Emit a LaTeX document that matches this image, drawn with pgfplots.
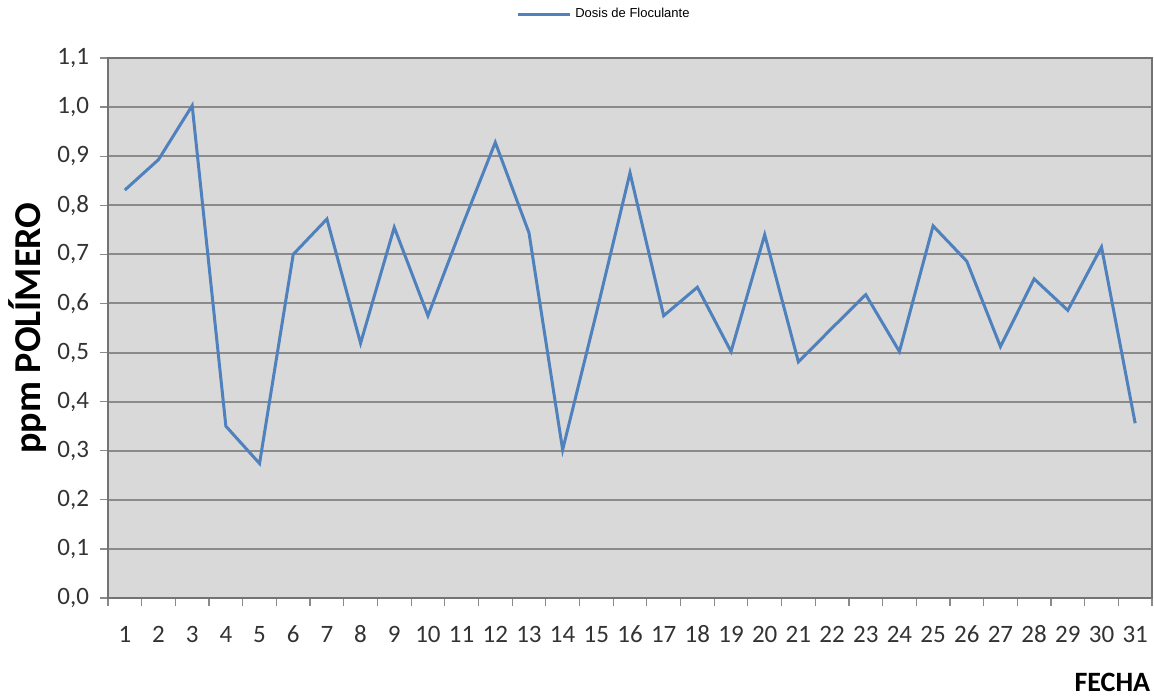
\documentclass[border=0pt]{standalone}
\usepackage{fontspec}
\setmainfont{Carlito}
\newfontfamily\legfont{Liberation Sans}
\usepackage{pgfplots}
\pgfplotsset{compat=1.18}

\definecolor{serie}{HTML}{4F81BD}
\definecolor{fondo}{HTML}{D9D9D9}
\definecolor{rejilla}{HTML}{8A8A8A}

\begin{document}
\begin{tikzpicture}
\begin{axis}[
  scale only axis,
  width=522pt, height=270pt,
  xmin=0.5, xmax=31.5,
  ymin=0, ymax=1.1,
  axis background/.style={fill=fondo},
  xtick={1,...,31},
  major x tick style={draw=none},
  minor xtick={0.5,1.5,...,31.5},
  minor tick length=4pt,
  ytick={0,0.1,0.2,0.3,0.4,0.5,0.6,0.7,0.8,0.9,1.0,1.1},
  major tick length=4pt,
  tick align=outside,
  xtick pos=bottom, ytick pos=left,
  tick style={rejilla, line width=0.6pt},
  ymajorgrids=true,
  grid style={rejilla, line width=1pt},
  axis line style={black!55, line width=0.6pt},
  ticklabel style={font=\fontsize{12.5}{14}\selectfont, text=black!80},
  xticklabel style={yshift=-6pt, text height=8.5pt, text depth=0pt},
  yticklabel style={xshift=-2pt},
  yticklabel={\pgfmathprintnumber[use comma, fixed, fixed zerofill, precision=1, assume math mode=true]{\tick}},
  xticklabel={\pgfmathprintnumber[assume math mode=true]{\tick}},
  ylabel={ppm POLÍMERO},
  ylabel style={at={(axis description cs:-0.077,0.5)}, anchor=center,
                font=\fontsize{19}{22}\selectfont\bfseries},
  xlabel={FECHA},
  xlabel style={at={(axis description cs:0.962,-0.157)}, anchor=center,
                font=\fontsize{14}{16}\selectfont\bfseries},
  legend style={draw=none, fill=none, at={(axis description cs:0.476,1.081)},
                anchor=center, font=\fontsize{6.5}{7}\selectfont\legfont},
  legend image code/.code={\draw[#1] (0pt,0pt) -- (26pt,0pt);},
]
\addplot[serie, line width=1.5pt, no marks] coordinates {
  (1,0.831) (2,0.893) (3,1.003) (4,0.350) (5,0.274)
  (6,0.700) (7,0.772) (8,0.519) (9,0.755) (10,0.575)
  (11,0.755) (12,0.928) (13,0.744) (14,0.302) (15,0.580)
  (16,0.866) (17,0.575) (18,0.633) (19,0.502) (20,0.740)
  (21,0.481) (22,0.550) (23,0.618) (24,0.502) (25,0.758)
  (26,0.686) (27,0.512) (28,0.650) (29,0.586) (30,0.715)
  (31,0.356)
};
\addlegendentry{Dosis de Floculante}
\end{axis}
\pgfresetboundingbox
\path[use as bounding box] ([shift={(-54pt,-50pt)}]current axis.south west)
  rectangle ([shift={(1pt,29pt)}]current axis.north east);
\end{tikzpicture}
\end{document}
